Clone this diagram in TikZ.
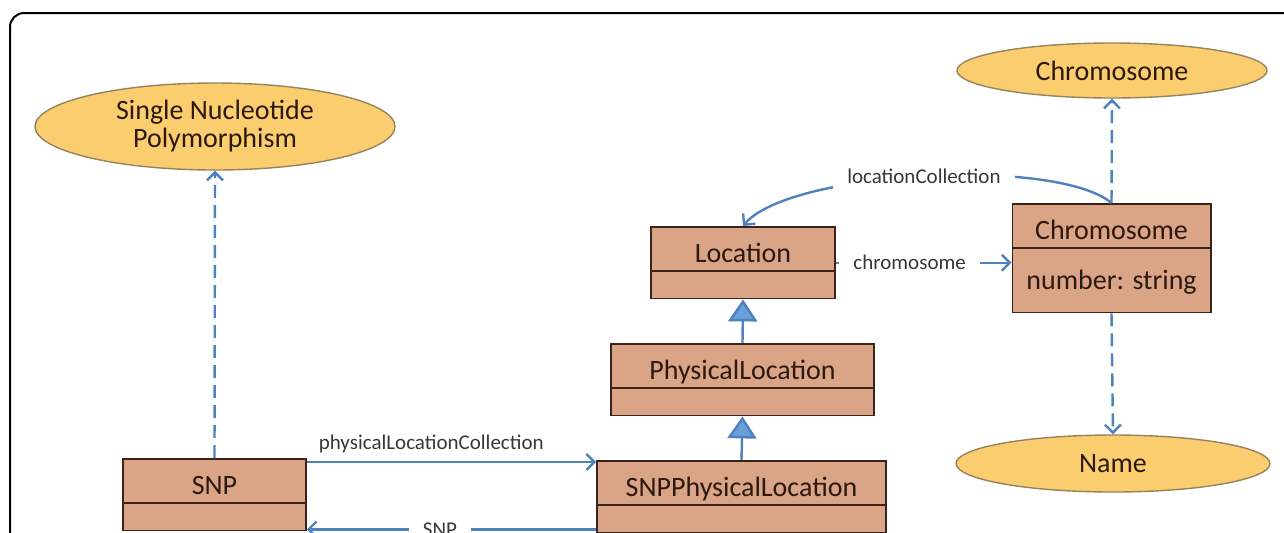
\documentclass[tikz,border=0pt]{standalone}
\usepackage{fontspec}
\setmainfont{Carlito}
\usepackage{tikz}
\usetikzlibrary{shapes.geometric,shapes.multipart,arrows.meta}
\definecolor{umlfill}{RGB}{218,165,135}
\definecolor{umlline}{RGB}{60,35,25}
\definecolor{umltext}{RGB}{45,25,15}
\definecolor{conceptfill}{RGB}{250,206,110}
\definecolor{conceptline}{RGB}{150,130,95}
\definecolor{linkblue}{RGB}{79,129,189}
\definecolor{tipblue}{RGB}{105,160,220}
\definecolor{labeltext}{RGB}{55,55,55}
\newcommand{\hd}{\rule[-3.5pt]{0pt}{21pt}}

\begin{document}
\begin{tikzpicture}[x=0.5pt,y=-0.5pt]
\useasboundingbox (0,0) rectangle (1284,532);
\clip (0,0) rectangle (1284,532);
\draw[line width=1pt, rounded corners=7pt] (10,600) -- (10,13) -- (1300,13);

\begin{scope}[every node/.style={ellipse,draw=conceptline,fill=conceptfill,line width=0.7pt,inner sep=0pt,align=center,text=umltext,font=\fontsize{14}{14}\selectfont}]
    \node (snpc)[minimum width=180pt,minimum height=43.5pt] at (215,126.5) {Single Nucleotide\\Polymorphism};
    \node (chrc)[minimum width=155pt,minimum height=27.5pt] at (1112,70.5) {Chromosome};
    \node (namec)[minimum width=157pt,minimum height=28.5pt] at (1113,463.5) {Name};
\end{scope}

\begin{scope}[every node/.style={rectangle split,rectangle split parts=2,draw=umlline,fill=umlfill,line width=0.9pt,
              inner xsep=7pt,inner ysep=0pt,rectangle split empty part height=13pt,rectangle split empty part depth=0pt,
              anchor=north,text=umltext,font=\fontsize{14}{16}\selectfont}]
    \node (snp)[minimum width=91.5pt] at (214.5,458) {\hd SNP};
    \node (snpphys)[minimum width=144.5pt] at (741.5,460) {\hd SNPPhysicalLocation};
    \node (phys)[minimum width=131.5pt] at (742.5,343) {\hd PhysicalLocation};
    \node (loc)[minimum width=92pt] at (743,226) {\hd Location};
    \node (chr)[minimum width=91.5pt,rectangle split part align={center,left}] at (1111.5,203)
        {\hd Chromosome \nodepart{two} \rule[-11pt]{0pt}{31.5pt}number: string};
\end{scope}

\coordinate (plc) at ([yshift=-2pt]snp.north east);
\coordinate (back) at ([yshift=2pt]snpphys.south west);

\begin{scope}[
              every node/.style={fill=white,inner xsep=7pt,inner ysep=2pt,text=labeltext,font=\fontsize{10.5}{12}\selectfont},
              every edge/.style={draw=linkblue,line width=1.2pt}]
    \path  (plc) edge[-{Straight Barb[length=4pt,width=8pt]}] node[above=2pt,pos=0.43,fill=none] {physicalLocationCollection} (plc -| snpphys.west);
    \path  (back) edge[-{Straight Barb[length=4pt,width=8pt]}] node[pos=0.54] {SNP} (back -| snp.east);
    \path  (loc.east) edge[-{Straight Barb[length=4pt,width=8pt]}] node[pos=0.42] {chromosome} (loc.east -| chr.west);
    \path  (chr.north) edge[-{Straight Barb[length=4pt,width=8pt]},out=140,in=50,looseness=0.5] node {locationCollection} (loc.north);
    \path  (snpphys.north) edge[-{Triangle[length=11pt,width=14.5pt,fill=tipblue]}] (phys.south);
    \path  (phys.north) edge[-{Triangle[length=11pt,width=14.5pt,fill=tipblue]}] (loc.south);
    \path  (snp.north) edge[dash pattern=on 6.5pt off 3.5pt,-{Straight Barb[length=4pt,width=8pt]}] (snpc.south);
    \path  (chr.north) edge[dash pattern=on 6.5pt off 3.5pt,-{Straight Barb[length=4pt,width=8pt]}] (chrc.south);
    \path  (chr.south) edge[dash pattern=on 6.5pt off 3.5pt,-{Straight Barb[length=4pt,width=8pt]}] (namec.north);
\end{scope}
\end{tikzpicture}
\end{document}
